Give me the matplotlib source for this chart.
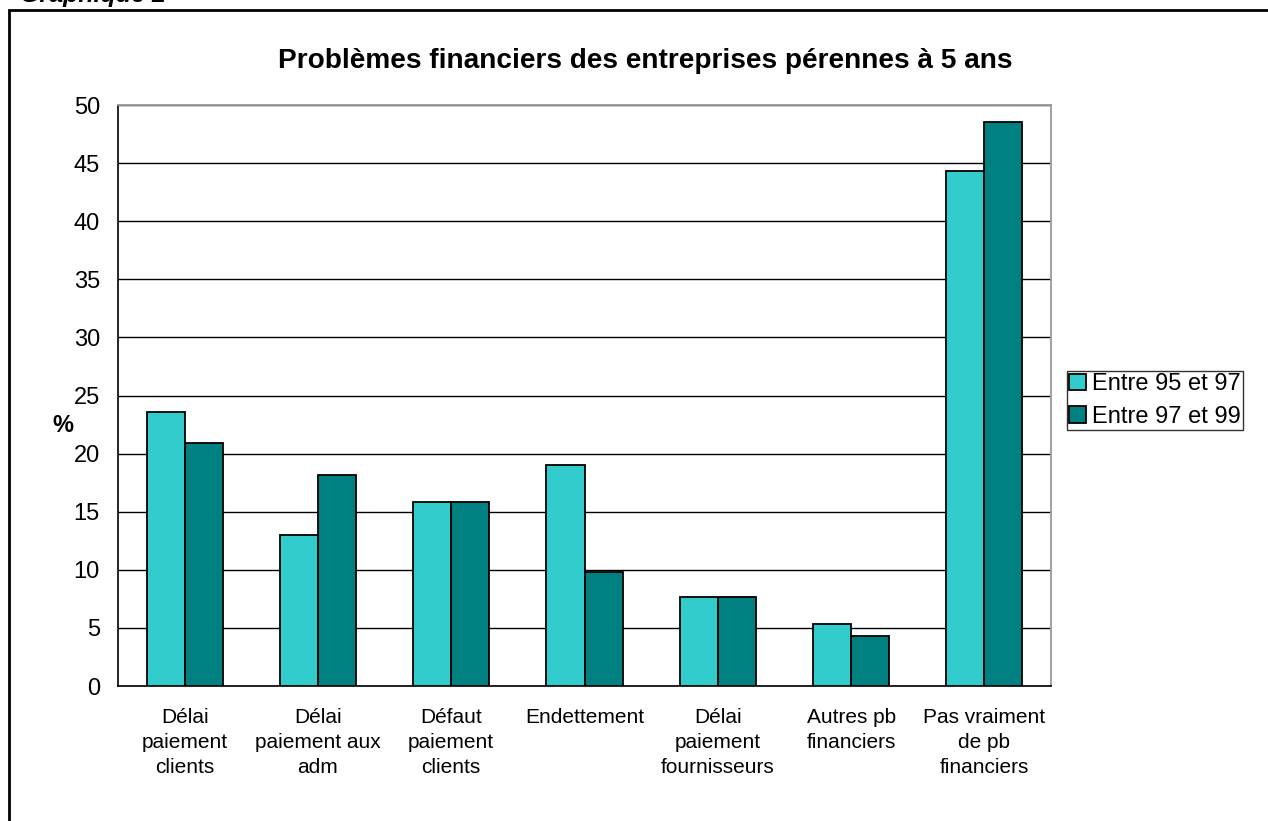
import numpy as np
import matplotlib.pyplot as plt
from matplotlib.patches import Rectangle

plt.rcParams['font.family'] = ['Liberation Sans', 'DejaVu Sans']

# Data
categories = ["Délai\npaiement\nclients", "Délai\npaiement aux\nadm", "Défaut\npaiement\nclients",
              "Endettement", "Délai\npaiement\nfournisseurs", "Autres pb\nfinanciers",
              "Pas vraiment\nde pb\nfinanciers"]
entre_95_97 = [23.6, 13.0, 15.8, 19.0, 7.7, 5.3, 44.3]
entre_97_99 = [20.9, 18.2, 15.8, 9.8, 7.7, 4.3, 48.5]
series_labels = ["Entre 95 et 97", "Entre 97 et 99"]
colors = ["#33CCCC", "#008080"]

fig = plt.figure(figsize=(12.68, 8.21), dpi=100)
ax = fig.add_axes([118 / 1268, 1 - 686 / 821, 933 / 1268, 581 / 821])

x = np.arange(len(categories))
w = 1 / 3.5
ax.bar(x - w / 2, entre_95_97, width=w, color=colors[0], edgecolor="black", linewidth=1.3,
       label=series_labels[0], zorder=3)
ax.bar(x + w / 2, entre_97_99, width=w, color=colors[1], edgecolor="black", linewidth=1.3,
       label=series_labels[1], zorder=3)

ax.set_xlim(-0.5, len(categories) - 0.5)
ax.set_ylim(0, 50)
ax.set_yticks(range(0, 51, 5))
ax.tick_params(axis="y", length=0, labelsize=17, pad=13)
ax.set_xticks(x)
ax.set_xticklabels(categories, fontsize=15, linespacing=1.38)
ax.tick_params(axis="x", length=0, pad=16)
ax.yaxis.grid(True, color="black", linewidth=1)
ax.set_axisbelow(True)

for s in ["top", "right"]:
    ax.spines[s].set_color("#999999")
    ax.spines[s].set_linewidth(1.3)
for s in ["left", "bottom"]:
    ax.spines[s].set_color("black")
    ax.spines[s].set_linewidth(1.2)

ax.set_ylabel("%", fontsize=17, fontweight="bold", rotation=0, va="center", ha="center")
ax.yaxis.set_label_coords(-0.059, 0.449)

fig.text(645 / 1268, 1 - 61 / 821, "Problèmes financiers des entreprises pérennes à 5 ans",
         ha="center", va="center", fontsize=20.2, fontweight="bold")

leg = fig.legend(loc="upper left", bbox_to_anchor=(1067 / 1268, 1 - 371 / 821), fontsize=17,
                 frameon=True, fancybox=False, edgecolor="black", handlelength=0.7,
                 handleheight=0.7, handletextpad=0.25, borderpad=0.1, labelspacing=0.44,
                 borderaxespad=0)
leg.get_frame().set_linewidth(1)

# outer frame and cut-off caption
fig.patches.append(Rectangle((9 / 1268, -0.05), 1.1, 1 - 10 / 821 + 0.05, transform=fig.transFigure,
                             fill=False, edgecolor="black", linewidth=2))
fig.text(20 / 1268, 1 - 7 / 821, "Graphique 2", fontsize=18, fontweight="bold", style="italic",
         ha="left", va="bottom")

fig.savefig("out.png", dpi=100)
